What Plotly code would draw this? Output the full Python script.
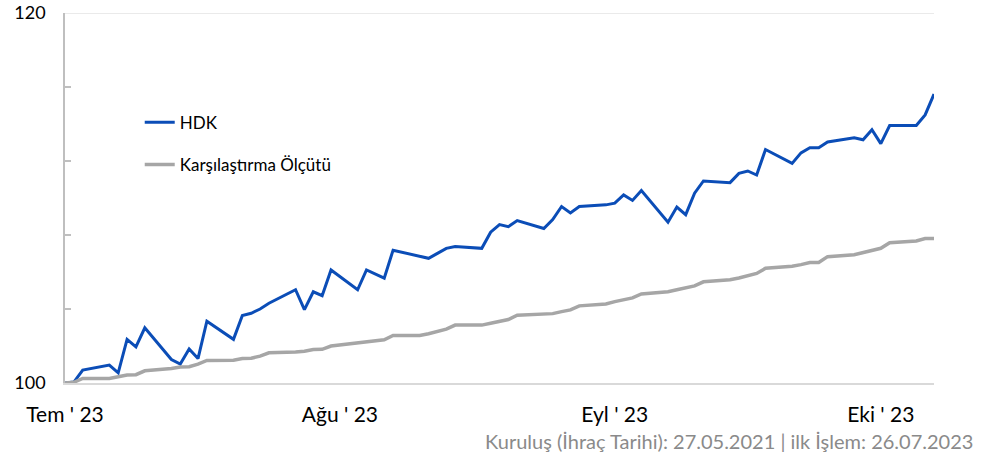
import plotly.graph_objects as go

dates = [
    "2023-07-26", "2023-07-27", "2023-07-28", "2023-07-31",
    "2023-08-01", "2023-08-02", "2023-08-03", "2023-08-04",
    "2023-08-07", "2023-08-08", "2023-08-09", "2023-08-10", "2023-08-11",
    "2023-08-14", "2023-08-15", "2023-08-16", "2023-08-17", "2023-08-18",
    "2023-08-21", "2023-08-22", "2023-08-23", "2023-08-24", "2023-08-25",
    "2023-08-28", "2023-08-29", "2023-08-31", "2023-09-01",
    "2023-09-04", "2023-09-05", "2023-09-06", "2023-09-07", "2023-09-08",
    "2023-09-11", "2023-09-12", "2023-09-13", "2023-09-14", "2023-09-15",
    "2023-09-18", "2023-09-19", "2023-09-20", "2023-09-21", "2023-09-22",
    "2023-09-25", "2023-09-26", "2023-09-27", "2023-09-28", "2023-09-29",
    "2023-10-02", "2023-10-03", "2023-10-04", "2023-10-05", "2023-10-06",
    "2023-10-09", "2023-10-10", "2023-10-11", "2023-10-12", "2023-10-13",
    "2023-10-16", "2023-10-17", "2023-10-18", "2023-10-19", "2023-10-20",
    "2023-10-23", "2023-10-24", "2023-10-25", "2023-10-26", "2023-10-27",
    "2023-10-30", "2023-10-31", "2023-11-01",
]

hdk = [
    100.00, 100.05, 100.70, 100.97,
    100.55, 102.36, 101.95, 102.98,
    101.27, 101.02, 101.84, 101.32, 103.34,
    102.36, 103.65, 103.77, 104.00, 104.31,
    105.04, 103.97, 104.93, 104.72, 106.11,
    105.04, 106.11, 105.67, 107.18,
    106.86, 106.74, 107.01, 107.28, 107.38,
    107.28, 108.15, 108.56, 108.45, 108.78,
    108.35, 108.83, 109.54, 109.19, 109.54,
    109.63, 109.72, 110.17, 109.87, 110.40,
    108.69, 109.51, 109.10, 110.26, 110.92,
    110.83, 111.33, 111.46, 111.24, 112.62,
    111.87, 112.44, 112.72, 112.72, 113.03,
    113.26, 113.15, 113.69, 112.94, 113.92,
    113.92, 114.49, 115.62,
]

benchmark = [
    100.00, 100.04, 100.25, 100.25,
    100.34, 100.43, 100.45, 100.66,
    100.79, 100.86, 100.88, 101.02, 101.22,
    101.23, 101.32, 101.34, 101.45, 101.63,
    101.68, 101.72, 101.81, 101.82, 102.00,
    102.17, 102.27, 102.34, 102.57,
    102.57, 102.66, 102.77, 102.91, 103.13,
    103.13, 103.23, 103.34, 103.43, 103.66,
    103.74, 103.75, 103.86, 103.95, 104.17,
    104.27, 104.40, 104.49, 104.60, 104.81,
    104.93, 105.04, 105.15, 105.25, 105.47,
    105.58, 105.68, 105.81, 105.92, 106.20,
    106.31, 106.40, 106.51, 106.51, 106.83,
    106.93, 107.04, 107.15, 107.28, 107.58,
    107.68, 107.81, 107.81,
]

x_tick_vals = ["2023-07-26", "2023-08-26", "2023-09-26", "2023-10-26"]
x_tick_text = ["Tem ' 23", "Ağu ' 23", "Eyl ' 23", "Eki ' 23"]
y_tick_vals = [100, 104, 108, 112, 116, 120]
y_tick_text = ["100", "", "", "", "", "120"]

FONT = "Lato"

fig = go.Figure()
fig.add_trace(go.Scatter(
    x=dates, y=hdk, mode="lines", name="HDK",
    line=dict(color="#0B4DB7", width=3),
    legendgroup="a",
))
fig.add_trace(go.Scatter(
    x=dates, y=benchmark, mode="lines", name="Karşılaştırma Ölçütü",
    line=dict(color="#A6A6A6", width=3.5),
    legendgroup="b",
))

fig.update_layout(
    width=989, height=457,
    margin=dict(l=65, r=55, t=13, b=74),
    paper_bgcolor="white", plot_bgcolor="white",
    font=dict(family=FONT, size=16, color="black"),
    showlegend=True,
    legend=dict(
        x=0.086, y=0.752, xanchor="left", yanchor="top",
        bgcolor="rgba(0,0,0,0)", font=dict(size=17, family=FONT),
        traceorder="grouped", tracegroupgap=17,
    ),
    xaxis=dict(
        type="date",
        range=["2023-07-26", "2023-11-01"],
        tickmode="array", tickvals=x_tick_vals, ticktext=x_tick_text,
        showgrid=False, zeroline=False, automargin=False,
        showline=True, linecolor="#D9D9D9", linewidth=1.5,
        ticks="", ticklabelstandoff=12, ticklabeloverflow="allow",
        tickfont=dict(size=21, family=FONT),
    ),
    yaxis=dict(
        range=[100, 120.0005],
        tickmode="array", tickvals=y_tick_vals, ticktext=y_tick_text,
        showgrid=False, zeroline=False, automargin=False,
        showline=True, linecolor="#BFBFBF", linewidth=1.5,
        ticks="inside", ticklen=6, tickcolor="#BFBFBF", tickwidth=1.5,
        ticklabelstandoff=14, ticklabeloverflow="allow",
        tickfont=dict(size=18, family=FONT),
    ),
    shapes=[dict(
        type="line", xref="paper", yref="y", x0=0, x1=1, y0=120, y1=120,
        line=dict(color="#E3E3E3", width=1.5), layer="below",
    )],
    annotations=[dict(
        text="Kuruluş (İhraç Tarihi): 27.05.2021 | ilk İşlem: 26.07.2023",
        xref="paper", yref="paper", x=1.047, y=-0.156,
        xanchor="right", yanchor="middle", showarrow=False,
        font=dict(size=20, color="#8A8A8A", family=FONT),
    )],
)

fig.write_html(
    "out.html",
    config={"displayModeBar": False},
    post_script="document.body.style.margin='0px';",
)
